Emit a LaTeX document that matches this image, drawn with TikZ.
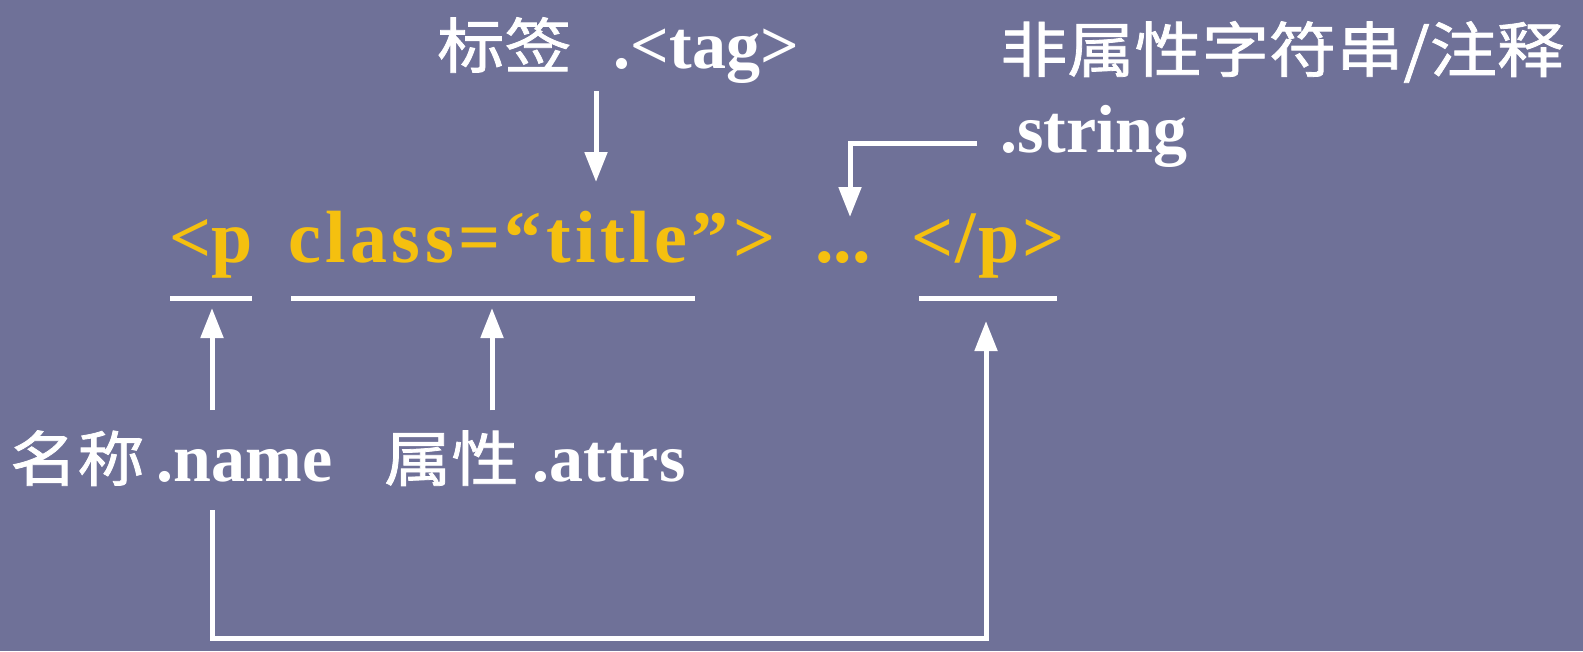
\documentclass[tikz,border=0pt]{standalone}
\usepackage{fontspec}
\setmainfont{Liberation Serif}
\newfontfamily\cjk{Noto Sans CJK SC}[FakeStretch=1.12,FakeBold=1.3]
\usetikzlibrary{arrows.meta}
\definecolor{slate}{HTML}{6F7198}
\definecolor{gold}{HTML}{F5C00F}
\newcommand{\zh}[1]{{\cjk\mdseries\fontsize{60}{64}\selectfont #1}}

\begin{document}
\begin{tikzpicture}[x=1pt,y=-1pt]
    \tikzstyle{lbl}=[text=white,inner sep=0pt,font=\fontsize{68}{72}\selectfont\bfseries]
    \tikzstyle{code}=[text=gold,inner sep=0pt,font=\fontsize{74}{78}\selectfont\bfseries]
    \tikzstyle{ptr}=[draw=white,line width=5pt,-{Triangle[width=22pt,length=30pt]}]
    \tikzstyle{uline}=[draw=white,line width=5pt]

    % background
    \fill[slate] (0,0) rectangle (1583,651);
    \useasboundingbox (0,0) rectangle (1583,651);

    % labels on top
    \node [lbl,anchor=base west] (tag) at (437,68) {\zh{标签}\hspace{42pt}.<tag>};
    \node [lbl,anchor=base west] (nonattr) at (1000,72) {\zh{非属性字符串/注释}};
    \node [lbl,anchor=base west] (str) at (1000,152) {.string};

    % the code line
    \node [code,anchor=base] (po) at (211,262) {<p};
    \node [code,anchor=base west] (attr) at (288,262) {\addfontfeature{LetterSpace=6}class=“title”>};
    \node [code,anchor=base] (dots) at (843,262) {...};
    \node [code,anchor=base] (pc) at (988,262) {\addfontfeature{LetterSpace=3}</p>};

    % labels below
    \node [lbl,anchor=base west] (name) at (10,481) {\zh{名称}\hspace{12pt}.name};
    \node [lbl,anchor=base west] (attrs) at (384,481) {\zh{属性}\hspace{14pt}.attrs};

    % underlines
    \draw [uline] (170,298) -- (252,298);
    \draw [uline] (291,298) -- (695,298);
    \draw [uline] (919,298) -- (1057,298);

    \coordinate (tagtip) at (596,182);
    \coordinate (strtip) at (850,217);
    \coordinate (tip1) at (212,308);
    \coordinate (tip2) at (492,308);
    \coordinate (tip3) at (986,321);

    \draw [ptr] ([yshift=-8pt]tag.south -| tagtip) -- (tagtip);
    \draw [ptr] ([xshift=-23pt,yshift=-8pt]str.west) -| (strtip);
    \draw [ptr] ([yshift=20pt]name.north -| tip1) -- (tip1);
    \draw [ptr] ([yshift=20pt]attrs.north -| tip2) -- (tip2);
    \draw [ptr] ([yshift=-24pt]name.south -| tip1) -- ++(0,128) -| (tip3);
\end{tikzpicture}
\end{document}
